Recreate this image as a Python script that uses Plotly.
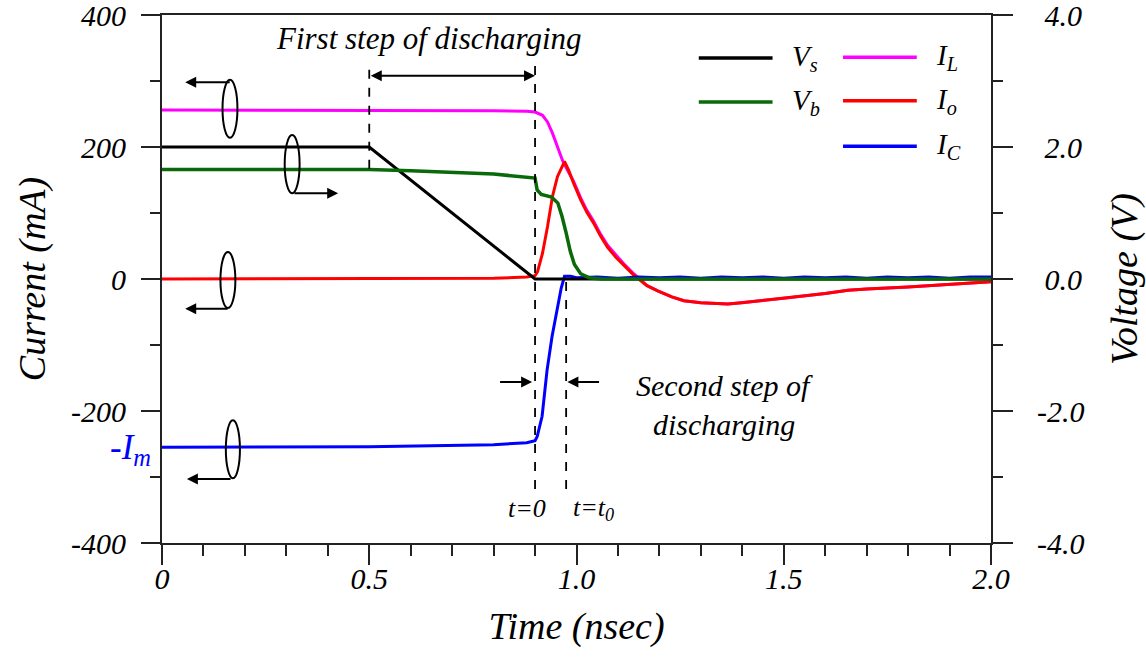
import plotly.graph_objects as go

# ---- waveform data (time in nsec, currents in mA, voltages in V) ----
t_vs = [0.0, 0.5, 0.9, 2.0]
v_s = [2.0, 2.0, 0.0, 0.0]

t_vb = [0.0, 0.5, 0.6, 0.7, 0.8, 0.9, 0.905, 0.915, 0.94, 0.955, 0.965, 0.975,
        0.985, 0.995, 1.01, 1.03, 1.06, 2.0]
v_b = [1.66, 1.66, 1.64, 1.62, 1.59, 1.53, 1.35, 1.28, 1.24, 1.15, 0.95, 0.70,
       0.42, 0.22, 0.08, 0.02, 0.0, 0.0]

t_il = [0.0, 0.3, 0.6, 0.8, 0.88, 0.9, 0.918, 0.93, 0.942, 0.954, 0.966, 0.978,
        0.993, 1.01, 1.025, 1.041, 1.058, 1.075, 1.095, 1.114, 1.138, 1.17, 1.196,
        1.23, 1.259, 1.3, 1.365, 1.4, 1.444, 1.5, 1.6, 1.655, 1.7, 1.8, 1.9, 2.0]
i_l = [256, 256, 256, 255, 254, 253, 248, 238, 221, 200, 180, 165,
       148, 123, 104, 88, 68, 51, 36, 23, 8, -10, -18,
       -27, -33, -36, -38, -36, -33, -29, -22, -17, -15, -12, -8, -4]

t_io = [0.0, 0.5, 0.8, 0.88, 0.9, 0.906, 0.918, 0.93, 0.942, 0.954, 0.966, 0.971,
        0.981, 0.993, 1.01, 1.025, 1.041, 1.058, 1.075, 1.095, 1.114, 1.138, 1.17,
        1.196, 1.23, 1.259, 1.3, 1.365, 1.4, 1.444, 1.5, 1.6, 1.655, 1.7, 1.8,
        1.9, 2.0]
i_o = [0, 0, 1, 3, 5, 11, 39, 79, 125, 155, 173, 178,
       165, 145, 120, 101, 85, 65, 48, 33, 21, 6, -10,
       -18, -27, -33, -36, -38, -36, -33, -29, -22, -17, -15, -12,
       -8, -4]

t_ic = [0.0, 0.5, 0.8, 0.88, 0.9, 0.905, 0.917, 0.929, 0.941, 0.953, 0.963, 0.971,
        0.986, 1.0, 1.05, 1.1, 1.15, 1.2, 1.25, 1.3, 1.35, 1.4, 1.45, 1.5, 1.55,
        1.6, 1.65, 1.7, 1.75, 1.8, 1.85, 1.9, 1.95, 2.0]
i_c = [-255, -254, -251, -248, -245, -239, -208, -138, -87, -47, -14, 4,
       4, 2, 3, 1, 3, 2, 3, 1, 3, 2, 3, 1, 3,
       2, 3, 1, 3, 2, 3, 1, 3, 3]

x_tickvals = [0, 0.5, 1.0, 1.5, 2.0]
x_ticktext = ["0", "0.5", "1.0", "1.5", "2.0"]
y_tickvals = [-400, -200, 0, 200, 400]
y_ticktext = ["-400", "-200", "0", "200", "400"]
y2_tickvals = [-4, -2, 0, 2, 4]
y2_ticktext = ["-4.0", "-2.0", "\u00a00.0", "\u00a02.0", "\u00a04.0"]

SERIF = "Liberation Serif"
BLUE = "#0000ff"
RED = "#ff0000"
MAGENTA = "#ff00ff"
GREEN = "#0a6a0a"
BLACK = "#000000"
AXC = "#222222"

fig = go.Figure()
fig.add_trace(go.Scatter(x=t_il, y=i_l, mode="lines", name="I_L",
                         line=dict(color=MAGENTA, width=3), yaxis="y"))
fig.add_trace(go.Scatter(x=t_io, y=i_o, mode="lines", name="I_o",
                         line=dict(color=RED, width=3), yaxis="y"))
fig.add_trace(go.Scatter(x=t_vs, y=v_s, mode="lines", name="V_s",
                         line=dict(color=BLACK, width=3), yaxis="y2"))
fig.add_trace(go.Scatter(x=t_ic, y=i_c, mode="lines", name="I_C",
                         line=dict(color=BLUE, width=3), yaxis="y"))
fig.add_trace(go.Scatter(x=t_vb, y=v_b, mode="lines", name="V_b",
                         line=dict(color=GREEN, width=3.5), yaxis="y2"))

shapes = []
annotations = []


def txt(x, y, text, size, color=BLACK, xanchor="center", yanchor="middle", xref="x"):
    annotations.append(dict(x=x, y=y, xref=xref, yref="y", text=text, showarrow=False,
                            xanchor=xanchor, yanchor=yanchor,
                            font=dict(family=SERIF, size=size, color=color, style="italic")))


def arrow(x0, y0, x1, y1, side="end"):
    annotations.append(dict(x=x1, y=y1, ax=x0, ay=y0, xref="x", yref="y",
                            axref="x", ayref="y", text="", showarrow=True,
                            arrowhead=2, arrowsize=1.1, arrowwidth=2,
                            arrowcolor=BLACK, arrowside=side, standoff=0, startstandoff=0))


def vdash(x, y0, y1):
    shapes.append(dict(type="line", xref="x", yref="y", x0=x, x1=x, y0=y0, y1=y1,
                       line=dict(color=BLACK, width=1.8, dash="dash")))


def ellipse(x0, x1, y0, y1):
    shapes.append(dict(type="circle", xref="x", yref="y", x0=x0, x1=x1, y0=y0, y1=y1,
                       line=dict(color=BLACK, width=2)))


# discharging-step markers
vdash(0.5, 167, 323)
vdash(0.9, -318, 323)
vdash(0.975, -318, 0)
arrow(0.5, 308, 0.9, 308, side="end+start")
txt(0.645, 365, "First step of discharging", 31)
arrow(0.812, -156, 0.893, -156)
arrow(1.058, -156, 0.978, -156)
txt(1.357, -162, "Second step of", 30)
txt(1.357, -220, "discharging", 30)
txt(0.88, -348, "t=0", 26)
txt(1.04, -348, "t=t<sub>0</sub>", 26)
# marker for the initial capacitor current level, just left of the axis
txt(-0.011, -258, "-I<sub>m</sub>", 35, color=BLUE, xanchor="right", xref="paper")

# axis-assignment ellipses
ellipse(0.146, 0.182, 214, 302)
arrow(0.167, 298, 0.056, 298)
ellipse(0.296, 0.332, 130, 218)
arrow(0.316, 130, 0.425, 130)
ellipse(0.141, 0.177, -44, 41)
arrow(0.162, -45, 0.056, -45)
ellipse(0.154, 0.188, -302, -214)
arrow(0.169, -303, 0.060, -303)

# legend block
legend_items = [
    (1.295, 1.473, 335, BLACK, "V<sub>s</sub>"),
    (1.295, 1.473, 268, GREEN, "V<sub>b</sub>"),
    (1.643, 1.821, 336, MAGENTA, "I<sub>L</sub>"),
    (1.643, 1.821, 270, RED, "I<sub>o</sub>"),
    (1.643, 1.821, 201, BLUE, "I<sub>C</sub>"),
]
for x0, x1, y, c, lab in legend_items:
    shapes.append(dict(type="line", xref="x", yref="y", x0=x0, x1=x1, y0=y, y1=y,
                       line=dict(color=c, width=3.5)))
    txt(x1 + 0.042, y, lab, 29, xanchor="left")

tickfont = dict(family=SERIF, size=30, color=BLACK, style="italic")
titlefont = dict(family=SERIF, size=38, color=BLACK, style="italic")

fig.update_layout(
    width=1146, height=659,
    margin=dict(l=162, r=155, t=15, b=116, autoexpand=False),
    paper_bgcolor="white", plot_bgcolor="white",
    showlegend=False,
    shapes=shapes, annotations=annotations,
    xaxis=dict(range=[0, 2], showgrid=False, zeroline=False, automargin=False,
               showline=True, linecolor=AXC, linewidth=2, mirror=True,
               ticks="outside", ticklen=20, tickwidth=1.5, tickcolor=AXC,
               tickvals=x_tickvals, ticktext=x_ticktext, tickfont=tickfont,
               ticklabelstandoff=-12, ticklabeloverflow="allow",
               minor=dict(ticks="outside", ticklen=11, tickwidth=1.5, tickcolor=AXC,
                          tickmode="linear", tick0=0, dtick=0.1),
               title=dict(text="Time (nsec)", font=titlefont, standoff=18)),
    yaxis=dict(range=[-400, 400], showgrid=False, zeroline=False, automargin=False,
               showline=True, linecolor=AXC, linewidth=2,
               ticks="outside", ticklen=19, tickwidth=1.5, tickcolor=AXC,
               tickvals=y_tickvals, ticktext=y_ticktext, tickfont=tickfont,
               ticklabelstandoff=9, ticklabeloverflow="allow",
               minor=dict(ticks="outside", ticklen=10, tickwidth=1.5, tickcolor=AXC,
                          tickmode="linear", tick0=0, dtick=100),
               title=dict(text="Current (mA)", font=titlefont, standoff=14)),
    yaxis2=dict(range=[-4, 4], overlaying="y", side="right", showgrid=False,
                zeroline=False, showline=True, linecolor=AXC, linewidth=2,
                automargin=False,
                ticks="outside", ticklen=20, tickwidth=1.5, tickcolor=AXC,
                tickvals=y2_tickvals, ticktext=y2_ticktext, tickfont=tickfont,
                ticklabelstandoff=18, ticklabeloverflow="allow",
                minor=dict(ticks="outside", ticklen=10, tickwidth=1.5, tickcolor=AXC,
                           tickmode="linear", tick0=0, dtick=1),
                title=dict(text="Voltage (V)", font=titlefont, standoff=30)),
)

fig.write_html("out.html")
